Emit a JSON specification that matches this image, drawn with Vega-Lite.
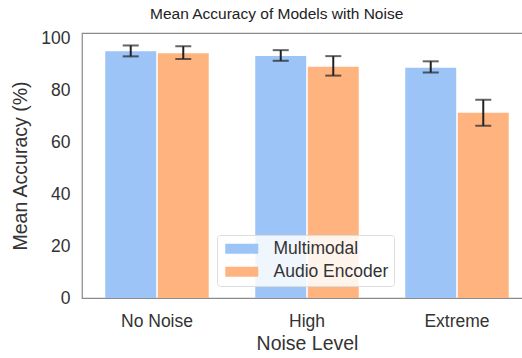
{
  "$schema": "https://vega.github.io/schema/vega-lite/v6.json",
  "autosize": "none",
  "width": 450,
  "height": 265,
  "padding": {"left": 82, "top": 33, "right": 0, "bottom": 60},
  "background": "white",
  "config": {
    "font": "Liberation Sans",
    "view": {"stroke": "#8c8c8c", "strokeWidth": 1.25},
    "axis": {"grid": false, "domain": false, "ticks": false, "labelColor": "#333333", "titleColor": "#333333", "labelFontSize": 17.5, "titleFontSize": 19.5, "titleFontWeight": "normal"}
  },
  "title": {"text": "Mean Accuracy of Models with Noise", "anchor": "start", "frame": "group", "dx": 68, "fontSize": 15.5, "fontWeight": "normal", "color": "#222222", "offset": 7},
  "data": {"values": [
    {"level": "No Noise", "model": "Multimodal", "mean": 95.0, "lo": 93.0, "hi": 97.2},
    {"level": "No Noise", "model": "Audio Encoder", "mean": 94.2, "lo": 92.0, "hi": 96.9},
    {"level": "High", "model": "Multimodal", "mean": 93.1, "lo": 91.3, "hi": 95.4},
    {"level": "High", "model": "Audio Encoder", "mean": 89.0, "lo": 85.6, "hi": 93.1},
    {"level": "Extreme", "model": "Multimodal", "mean": 88.6, "lo": 86.8, "hi": 91.1},
    {"level": "Extreme", "model": "Audio Encoder", "mean": 71.3, "lo": 66.3, "hi": 76.3}
  ]},
  "encoding": {
    "x": {"field": "level", "type": "nominal", "sort": ["No Noise", "High", "Extreme"],
      "scale": {"paddingInner": 0.31, "paddingOuter": 0.155},
      "axis": {"title": "Noise Level", "labelAngle": 0, "labelPadding": 14, "titlePadding": 5}},
    "xOffset": {"field": "model", "type": "nominal", "sort": ["Multimodal", "Audio Encoder"], "scale": {"paddingInner": 0.03}}
  },
  "layer": [
    {
      "mark": {"type": "bar"},
      "encoding": {
        "y": {"field": "mean", "type": "quantitative", "scale": {"domain": [0, 102], "nice": false},
          "axis": {"title": "Mean Accuracy (%)", "values": [0, 20, 40, 60, 80, 100], "labelPadding": 12, "titlePadding": 10}},
        "color": {"field": "model", "type": "nominal", "sort": ["Multimodal", "Audio Encoder"],
          "scale": {"domain": ["Multimodal", "Audio Encoder"], "range": ["#9cc4f6", "#ffb480"]},
          "legend": {"title": null, "orient": "none", "legendX": 135, "legendY": 202,
            "symbolType": "M-2,-0.6H2V0.6H-2Z", "symbolSize": 272, "symbolStrokeWidth": 0, "symbolOffset": 11,
            "labelFontSize": 17.5, "labelColor": "#333333", "rowPadding": 4, "labelOffset": 23,
            "fillColor": "rgba(255,255,255,0.85)", "strokeColor": "#dddddd", "padding": 5, "cornerRadius": 3}}
      }
    },
    {
      "mark": {"type": "rule", "color": "#222222", "strokeWidth": 2},
      "encoding": {"y": {"field": "lo", "type": "quantitative"}, "y2": {"field": "hi"}}
    },
    {
      "mark": {"type": "tick", "color": "#222222", "thickness": 2, "size": 16},
      "encoding": {"y": {"field": "lo", "type": "quantitative"}}
    },
    {
      "mark": {"type": "tick", "color": "#222222", "thickness": 2, "size": 16},
      "encoding": {"y": {"field": "hi", "type": "quantitative"}}
    }
  ]
}
